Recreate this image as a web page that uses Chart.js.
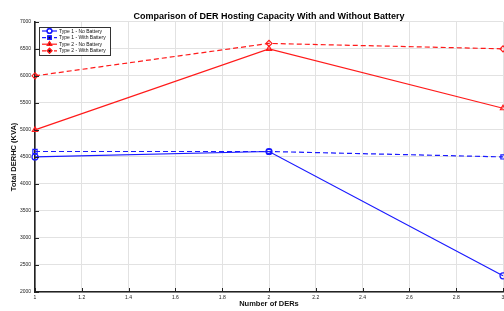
<!DOCTYPE html>
<html>
<head>
<meta charset="utf-8">
<script src="https://cdn.jsdelivr.net/npm/chart.js@4.4.1/dist/chart.umd.min.js"></script>
<style>
  html, body { margin: 0; padding: 0; background: #fff; overflow: hidden; }
  #wrap { width: 504px; height: 311px; }
  canvas { display: block; }
</style>
</head>
<body>
<div id="wrap"><canvas id="myChart" width="504" height="311"></canvas></div>
<script>
const derCounts = [1, 2, 3];
const type1NoBattery = [4500, 4600, 2300];
const type1WithBattery = [4600, 4600, 4500];
const type2NoBattery = [5000, 6500, 5400];
const type2WithBattery = [6000, 6600, 6500];

const BLUE = "#1a1aff";
const RED = "#ff1a1a";

const toPoints = (vals) => vals.map((v, i) => ({ x: derCounts[i], y: v }));

function series(label, vals, color, style, dashed) {
  return {
    label: label,
    data: toPoints(vals),
    borderColor: color,
    backgroundColor: "rgba(255,255,255,0)",
    borderWidth: 1.2,
    borderDash: dashed ? [5, 3] : [],
    pointStyle: style,
    pointRadius: 3,
    pointBorderWidth: 1.2,
    pointBorderColor: color,
    pointBackgroundColor: "rgba(255,255,255,0)",
    tension: 0,
    clip: false,
    _dashed: dashed,
  };
}

// legend box drawn inside the plot, plus inward tick marks
const insideLegend = {
  id: "insideLegend",
  afterDatasetsDraw(chart) {
    const c = chart.ctx;
    const xs = chart.scales.x, ys = chart.scales.y;
    c.save();
    c.strokeStyle = "#222";
    c.lineWidth = 1;
    c.beginPath();
    for (let v = 1; v <= 3.001; v += 0.2) {
      const px = Math.round(xs.getPixelForValue(v)) + 0.5;
      c.moveTo(px, ys.bottom);
      c.lineTo(px, ys.bottom - 4);
    }
    for (let v = 2000; v <= 7000; v += 500) {
      const py = Math.round(ys.getPixelForValue(v)) + 0.5;
      c.moveTo(xs.left, py);
      c.lineTo(xs.left + 4, py);
    }
    c.stroke();

    const bx = 39, by = 27, bw = 71, bh = 28;
    c.fillStyle = "#fff";
    c.fillRect(bx, by, bw, bh);
    c.lineWidth = 1;
    c.strokeStyle = "#333";
    c.strokeRect(bx + 0.5, by + 0.5, bw, bh);
    c.font = "5px 'Liberation Sans', Arial, sans-serif";
    c.textBaseline = "middle";
    chart.data.datasets.forEach((ds, i) => {
      const y = by + 4 + i * 6.6;
      c.strokeStyle = ds.borderColor;
      c.lineWidth = 1.2;
      c.setLineDash(ds._dashed ? [4, 2] : []);
      c.beginPath();
      c.moveTo(bx + 3, y);
      c.lineTo(bx + 18, y);
      c.stroke();
      c.setLineDash([]);
      Chart.helpers.drawPoint(c, { pointStyle: ds.pointStyle, radius: 2.4, rotation: 0, borderWidth: 1 }, bx + 10.5, y);
      c.stroke();
      c.fillStyle = "#111";
      c.fillText(ds.label, bx + 20, y + 0.3);
    });
    c.restore();
  },
};

const config = {
  type: "line",
  data: {
    datasets: [
      series("Type 1 - No Battery", type1NoBattery, BLUE, "circle", false),
      series("Type 1 - With Battery", type1WithBattery, BLUE, "rect", true),
      series("Type 2 - No Battery", type2NoBattery, RED, "triangle", false),
      series("Type 2 - With Battery", type2WithBattery, RED, "rectRot", true),
    ],
  },
  options: {
    responsive: false,
    animation: false,
    layout: { autoPadding: false, padding: { left: 0, right: 1, top: 0, bottom: 0 } },
    plugins: {
      legend: { display: false },
      tooltip: { enabled: false },
      title: {
        display: true,
        fullSize: false,
        text: "Comparison of DER Hosting Capacity With and Without Battery",
        color: "#000",
        font: { family: "'Liberation Sans', Arial, sans-serif", size: 9, weight: "bold" },
        padding: { top: 11, bottom: 0 },
      },
    },
    scales: {
      x: {
        type: "linear",
        min: 1,
        max: 3,
        afterFit(scale) {
          scale.height = 19;
          scale.paddingLeft = 0;
          scale.paddingRight = 0;
        },
        grid: { color: "#e2e2e2", lineWidth: 1, drawTicks: false },
        border: { color: "#222", width: 1.6 },
        ticks: {
          stepSize: 0.2,
          padding: 3,
          color: "#222",
          maxRotation: 0,
          autoSkip: false,
          font: { family: "'Liberation Sans', Arial, sans-serif", size: 5 },
          callback: (v) => String(Number(v.toFixed(1))),
        },
        title: {
          display: true,
          text: "Number of DERs",
          color: "#111",
          padding: { top: 1, bottom: 2.5 },
          font: { family: "'Liberation Sans', Arial, sans-serif", size: 7.5, weight: "bold" },
        },
      },
      y: {
        min: 2000,
        max: 7000,
        afterFit(scale) {
          scale.width = 35;
          scale.paddingTop = 0;
          scale.paddingBottom = 0;
        },
        grid: { color: "#e2e2e2", lineWidth: 1, drawTicks: false },
        border: { color: "#222", width: 1.6 },
        ticks: {
          stepSize: 500,
          padding: 4,
          color: "#222",
          font: { family: "'Liberation Sans', Arial, sans-serif", size: 5 },
          callback: (v) => String(v),
        },
        title: {
          display: true,
          text: "Total DERHC (KVA)",
          color: "#111",
          padding: { top: 9.5, bottom: 0 },
          font: { family: "'Liberation Sans', Arial, sans-serif", size: 7.5, weight: "bold" },
        },
      },
    },
  },
  plugins: [insideLegend],
};

new Chart(document.getElementById("myChart").getContext("2d"), config);
</script>
</body>
</html>
